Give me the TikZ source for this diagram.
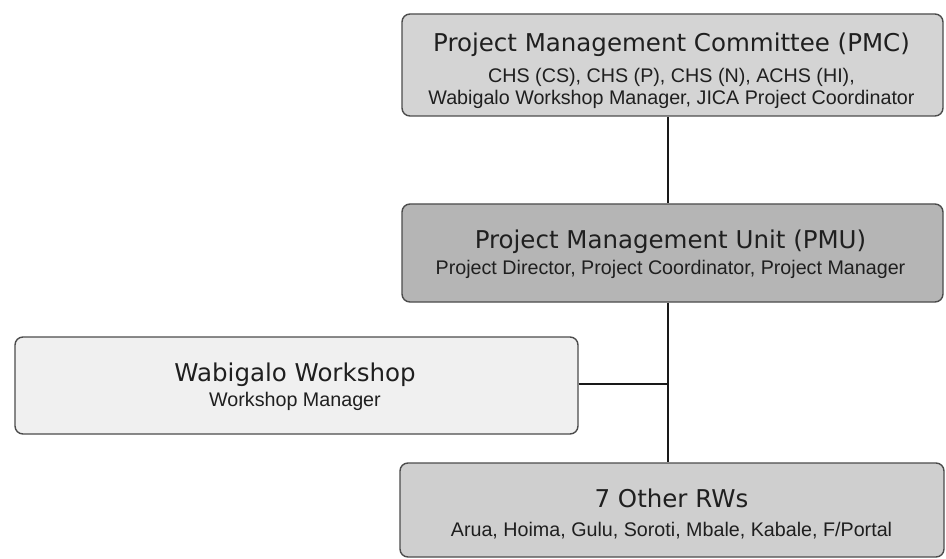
\documentclass[tikz,border=0pt]{standalone}
\usepackage{fontspec}
\setmainfont{Liberation Sans}
\newfontfamily\headfont{DejaVu Sans}
\begin{document}
\begin{tikzpicture}[x=1pt,y=-1pt,
  orgbox/.style={draw=black!70, line width=1.4pt, rounded corners=8pt, inner sep=0pt},
  headtext/.style={anchor=base, inner sep=0pt, text=black!88,
    font=\headfont\fontsize{24.5}{28}\selectfont},
  subtext/.style={anchor=base, inner sep=0pt, text=black!88,
    font=\fontsize{19.7}{23}\selectfont},
  link/.style={draw=black!90, line width=2pt},
]
\useasboundingbox (0,0) rectangle (946,559);
\fill[white] (0,0) rectangle (946,559);

% boxes
\node[orgbox, fill=black!17, minimum width=541pt, minimum height=102pt] (pmc) at (672.5,65) {};
\node[orgbox, fill=black!29, minimum width=541pt, minimum height=98pt] (pmu) at (672.5,253) {};
\node[orgbox, fill=black!6, minimum width=563pt, minimum height=97pt] (wab) at (296.5,385.5) {};
\node[orgbox, fill=black!19, minimum width=544pt, minimum height=94pt] (rws) at (672,510) {};

% committee
\node[headtext] (pmc-title) at (671.5,52) {Project Management Committee (PMC)};
\node[subtext] (pmc-line1) at (671.5,83) {CHS (CS), CHS (P), CHS (N), ACHS (HI),};
\node[subtext] (pmc-line2) at (671.5,105) {Wabigalo Workshop Manager, JICA Project Coordinator};

% management unit
\node[headtext] (pmu-title) at (670.5,248) {Project Management Unit (PMU)};
\node[subtext] (pmu-line) at (670.5,274) {Project Director, Project Coordinator, Project Manager};

% workshop
\node[headtext] (wab-title) at (295,381) {Wabigalo Workshop};
\node[subtext] (wab-line) at (295,406) {Workshop Manager};

% regional workshops
\node[headtext] (rws-title) at (671.5,507) {7 Other RWs};
\node[subtext] (rws-line) at (671.5,536) {Arua, Hoima, Gulu, Soroti, Mbale, Kabale, F/Portal};

% connectors along the spine
\coordinate (spine) at (668,0);
\coordinate (junction) at (668,384);
\draw[link] (pmc.south -| spine) -- (pmu.north -| spine);
\draw[link] (pmu.south -| spine) -- (rws.north -| spine);
\draw[link] (wab.east |- junction) -- (junction);
\end{tikzpicture}
\end{document}
